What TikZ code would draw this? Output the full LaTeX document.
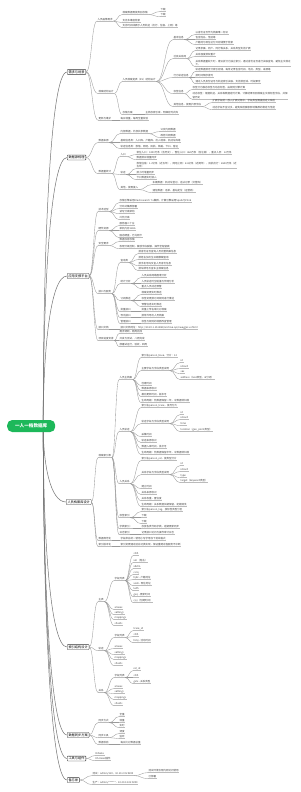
\documentclass[tikz,border=0pt]{standalone}
\usepackage{fontspec}
\newfontfamily\cjk{Noto Sans CJK SC}
\usetikzlibrary{calc}
\pgfdeclarelayer{bg}
\pgfsetlayers{bg,main}
\definecolor{txt}{HTML}{444444}
\definecolor{lnc}{HTML}{9A9A9A}
\definecolor{ulc}{HTML}{BBBBBB}
\definecolor{rootg}{HTML}{1DB85A}
\tikzset{
  uline/.style={draw=ulc, line width=0.3pt},
  conn/.style={draw=lnc, line width=0.35pt},
  rconn/.style={draw=black!55, line width=0.5pt},
  leaf/.style={anchor=south west, inner xsep=0.5pt, inner ysep=0.45pt, align=left,
    font=\cjk\fontsize{2.5}{3.3}\selectfont, text=txt,
    append after command={\pgfextra{\draw[uline] (\tikzlastnode.south west) -- (\tikzlastnode.south east);}}},
  topic/.style={anchor=west, draw=black!80, line width=0.45pt, fill=white, rounded corners=0.6pt,
    inner xsep=1.3pt, inner ysep=1pt, font=\cjk\fontsize{3.2}{3.6}\selectfont, text=black},
  rootbox/.style={anchor=west, fill=rootg, rounded corners=5pt, minimum height=12pt, minimum width=48pt,
    inner xsep=3pt, inner ysep=0pt, font=\cjk\bfseries\fontsize{4.6}{5.5}\selectfont, text=white}
}
\newcommand\mmlf[4]{\node[leaf] (#1) at (#2,{-(#3+1.6)}) {#4};}
\newcommand\mmlk[2]{\draw[conn] let \p1=(#1.south east), \p2=(#2.south west) in
  (\p1) .. controls ({(\x1+\x2)/2},\y1) and ({(\x1+\x2)/2},\y2) .. (\p2);}
\newcommand\mmtk[2]{\draw[conn] let \p1=(#1.east), \p2=(#2.south west) in
  (\p1) .. controls ({(\x1+\x2)/2},\y1) and ({(\x1+\x2)/2},\y2) .. (\p2);}
\newcommand\mmrk[2]{\draw[rconn] let \p1=([xshift=12pt]#1.center), \p2=(#2.west) in
  (\p1) .. controls (\x1,{(\y1+\y2)/2}) and ({\x1+7pt},\y2) .. (\p2);}
\begin{document}
\begin{tikzpicture}[x=1pt,y=1pt]
\useasboundingbox (0,0) rectangle (300,-792);
\begin{pgfonlayer}{bg}
\fill[white] (0,0) rectangle (300,-792);
\end{pgfonlayer}

% root and main topics
\node[rootbox] (R) at (7,-426) {一人一档数据库};
\node[topic] (B1) at (67,-72) {需求与场景};
\node[topic] (B2) at (67,-157.5) {数据源梳理};
\node[topic] (B3) at (67,-276) {应用支撑平台};
\node[topic] (B4) at (66,-502) {人员档案库设计};
\node[topic] (B5) at (67,-647) {索引结构设计};
\node[topic] (B6) at (67,-735) {数据同步方案};
\node[topic] (B7) at (67,-758.5) {工具与组件};
\node[topic] (B8) at (67,-780) {备忘录};

% ---------- branch 1
\mmlf{c1}{97}{19.5}{人员画像需求}
\mmlf{c1a}{122}{13}{档案数据需按类别存储}
\mmlf{c1a1}{160}{10}{下载}
\mmlf{c1a2}{160}{15}{下载}
\mmlf{c1b}{122}{21}{支持多维度检索}
\mmlf{c1c}{122}{26}{支持时间线展示人员轨迹（出行、住宿、上网）等}
\mmlf{c2}{98}{92}{档案结构设计}
\mmlf{c2a}{122}{80}{人员档案宽表（ES）结构设计}
\mmlf{cA}{173}{38}{基本信息}
\mmlf{cA1}{195}{33}{以身份证号作为档案唯一标识}
\mmlf{cA2}{195}{38}{包含姓名、性别等}
\mmlf{cA3}{195}{43}{户籍地与现住址分开存储便于检索}
\mmlf{cB}{173}{57}{社会关系网}
\mmlf{cB1}{195}{49}{记录亲属、同户、同行等关系，关系类型支持扩展}
\mmlf{cB2}{195}{55}{关系强度按权重计}
\mmlf{cB3}{195}{65}{关系数据量较大时，建议拆分为独立索引，通过身份证号进行关联查询，避免主文档过\\大。}
\mmlf{cC}{173}{76}{行为轨迹信息}
\mmlf{cC1}{195}{70}{轨迹数据按月分索引存储，每条记录包含时间、地点、类型、来源等}
\mmlf{cC2}{195}{76}{按时间倒序排列}
\mmlf{cC3}{195}{82}{通过人员身份证号与轨迹索引关联，支持按区域、时段聚合}
\mmlf{cD}{173}{92}{标签信息}
\mmlf{cD1}{192}{88}{标签分为静态标签与动态标签，由规则引擎计算}
\mmlf{cD2}{192}{97.5}{动态标签：根据轨迹、关系等数据定时计算，计算结果写回档案主文档标签字段，并保\\留历史}
\mmlf{cE}{173}{105}{其他信息，按需扩展字段}
\mmlf{cE1}{212}{101}{扩展字段统一放入扩展对象中，字段类型需提前定义映射}
\mmlf{cE2}{212}{108}{动态字段不宜过多，避免映射膨胀影响集群的稳定与性能}
\mmlf{c2b}{122}{113}{存储方案}
\mmlf{c2b1}{145}{113}{主档存索引库，明细存列式库}
\mmlf{c3}{98}{118.5}{更新与维护}
\mmlf{c3a}{120}{118.5}{每日增量，每周全量校验}

% ---------- branch 2
\mmlf{d1}{98}{141}{数据来源}
\mmlf{d1a}{120}{132}{内部数据，外部共享数据}
\mmlf{d1a1}{160}{130}{公安内网数据}
\mmlf{d1a2}{160}{136}{政务外网数据}
\mmlf{d1b}{120}{141}{基础信息类：人口库、户籍库、出入境库、机动车库等}
\mmlf{d1c}{120}{147}{轨迹信息类：旅馆、网吧、民航、铁路、卡口、客运}
\mmlf{d2}{98}{172}{数据量统计}
\mmlf{e1}{120}{155}{人口}
\mmlf{e1a}{136}{153}{常住人口：3200万条（含历史），暂住人口：860万条（含注销），重点人员：12万条}
\mmlf{e1b}{136}{158}{数据按日增量同步}
\mmlf{e2}{120}{173}{轨迹}
\mmlf{e2a}{136}{167}{旅馆住宿：1.2亿条（近五年），网吧上网：8.6亿条（近两年），民航出行：6500万条（近\\五年）}
\mmlf{e2b}{136}{173}{按小时增量同步}
\mmlf{e2c}{136}{178}{卡口数据实时接入}
\mmlf{e3}{120}{188}{其他，按需接入}
\mmlf{e3a}{152}{183}{车辆数据：机动车登记、违法记录（交管库）}
\mmlf{e3b}{152}{191}{通信数据：话单、基站定位（运营商）}

% ---------- branch 3
\mmlf{f1}{98}{210}{技术选型}
\mmlf{f1a}{119}{201}{存储引擎采用Elasticsearch 7.x集群，计算引擎采用Spark与Flink}
\mmlf{f1b}{119}{207}{分布式集群部署}
\mmlf{f1c}{119}{212}{读写分离架构}
\mmlf{f1d}{119}{218}{冷热分离}
\mmlf{f2}{98}{229}{硬件资源}
\mmlf{f2a}{119}{224}{服务器二十台}
\mmlf{f2b}{119}{229}{单机内存128G}
\mmlf{f2c}{119}{236}{固态硬盘，万兆网卡}
\mmlf{f3}{98}{244}{安全要求}
\mmlf{f3a}{119}{240}{数据加密存储}
\mmlf{f3b}{119}{247}{权限分级控制，敏感字段脱敏，操作全程留痕}
\mmlf{f4}{98}{292}{接口与服务}
\mmlf{g1}{120}{261}{查询类}
\mmlf{g1a}{138}{252}{按身份证号查询人员完整档案信息}
\mmlf{g1b}{138}{258}{按姓名加出生日期模糊查询}
\mmlf{g1c}{138}{264}{按手机号码反查人员身份信息}
\mmlf{g1d}{138}{269}{按车牌号反查车主档案信息}
\mmlf{g2}{120}{282}{统计分析}
\mmlf{g2a}{141}{276}{人员关系网络图谱分析}
\mmlf{g2b}{141}{282}{人员轨迹时空碰撞与伴随分析}
\mmlf{g2c}{141}{287}{重点人员动态预警}
\mmlf{g3}{120}{299}{订阅推送}
\mmlf{g3a}{141}{293}{档案变更实时推送}
\mmlf{g3b}{141}{299}{标签变更按订阅规则进行推送}
\mmlf{g3c}{141}{305}{预警信息实时推送}
\mmlf{g4}{120}{310}{批量接口}
\mmlf{g4a}{141}{310}{批量上传名单比对档案}
\mmlf{g5}{120}{316}{导出接口}
\mmlf{g5a}{141}{316}{按条件导出人员档案}
\mmlf{g6}{120}{322}{管理接口}
\mmlf{g6a}{141}{322}{标签与规则的增删改查管理}
\mmlf{f5}{98}{328}{接口文档}
\mmlf{f5a}{120}{328}{接口文档地址：http://10.20.1.15:8080/archive-api/swagger-ui.html}
\mmlf{f6}{98}{339}{项目进度安排}
\mmlf{f6a}{119}{332}{需求调研，两周完成}
\mmlf{f6b}{119}{339}{开发与测试，八周完成}
\mmlf{f6c}{119}{345}{部署试运行，验收，四周}

% ---------- branch 4
\mmlf{h1}{98}{456}{档案索引表}
\mmlf{i1}{119}{378}{人员主档案}
\mmlf{i1a}{141}{356}{索引名person\_base，分片：12}
\mmlf{i1b}{141}{369}{主要字段与字段类型说明}
\mmlf{i1b1}{180}{361}{id}
\mmlf{i1b2}{180}{367}{idcard}
\mmlf{i1b3}{180}{372}{sex}
\mmlf{i1b4}{180}{378}{address（text类型，ik分词）}
\mmlf{i1c}{141}{384}{创建时间}
\mmlf{i1d}{141}{389}{数据来源标识}
\mmlf{i1e}{141}{395}{最后更新时间，版本号}
\mmlf{i1f}{141}{401}{生命周期：热数据保留一年，冷数据转归档}
\mmlf{i2}{119}{430}{人员轨迹}
\mmlf{i2a}{141}{406}{索引名person\_trace，按月分片}
\mmlf{i2b}{141}{422}{轨迹字段与字段类型说明}
\mmlf{i2b1}{180}{413}{id}
\mmlf{i2b2}{180}{418}{idcard}
\mmlf{i2b3}{180}{424}{time}
\mmlf{i2b4}{180}{430}{location（geo\_point类型）}
\mmlf{i2c}{141}{435}{采集时间}
\mmlf{i2d}{141}{441}{轨迹来源标识}
\mmlf{i2e}{141}{447}{数据入库时间，批次号}
\mmlf{i2f}{141}{453}{生命周期：热数据保留半年，冷数据转归档}
\mmlf{i3}{119}{482}{人员关系}
\mmlf{i3a}{141}{459}{索引名person\_rel，按类型分片}
\mmlf{i3b}{141}{473}{关系字段与字段类型说明}
\mmlf{i3b1}{180}{464}{id}
\mmlf{i3b2}{180}{470}{idcard}
\mmlf{i3b3}{180}{476}{type}
\mmlf{i3b4}{180}{481}{target（keyword类型）}
\mmlf{i3c}{141}{487}{建立时间}
\mmlf{i3d}{141}{493}{关系来源标识}
\mmlf{i3e}{141}{499}{关系权重，置信度}
\mmlf{i3f}{141}{505}{生命周期：关系数据长期保留，定期清洗}
\mmlf{i4}{119}{516}{标签索引}
\mmlf{i4a}{141}{510}{索引名person\_tag，按标签类型分区}
\mmlf{i4b}{141}{516}{下载}
\mmlf{i4c}{141}{522}{下载}
\mmlf{i5}{119}{527}{字典索引：}
\mmlf{i5a}{141}{527}{存放各类代码字典，定期更新同步}
\mmlf{i6}{119}{533}{日志索引}
\mmlf{i6a}{141}{533}{记录接口访问与操作审计日志}
\mmlf{h2}{98}{539}{数据规范化}
\mmlf{h2a}{120}{539}{字段命名统一使用小写字母加下划线格式}
\mmlf{h3}{98}{545}{索引版本化}
\mmlf{h3a}{120}{545}{索引变更通过别名切换实现，保证重建过程服务不中断}

% ---------- branch 5
\mmlf{j1}{98}{600}{主表}
\mmlf{k1}{114}{579}{字段列表}
\mmlf{k1a}{133}{554}{sfzh}
\mmlf{k1b}{133}{561}{xm（姓名）}
\mmlf{k1c}{133}{567}{xbdm}
\mmlf{k1d}{133}{573}{csrq}
\mmlf{k1e}{133}{578}{hjdz - 户籍地址}
\mmlf{k1f}{133}{584}{xzdz - 现住地址}
\mmlf{k1g}{133}{589}{lxdh}
\mmlf{k1h}{133}{595}{gxsj - 更新时间}
\mmlf{k1i}{133}{601}{cjsj（创建时间）}
\mmlf{k2}{114}{608}{aliases}
\mmlf{k3}{114}{613}{settings}
\mmlf{k4}{114}{618}{mappings}
\mmlf{k5}{114}{624}{shards}
\mmlf{j2}{98}{649}{轨迹}
\mmlf{k6}{114}{636}{字段列表}
\mmlf{k6a}{133}{629}{trace\_id}
\mmlf{k6b}{133}{635}{sfzh}
\mmlf{k6c}{133}{641}{hdsj - 活动时间}
\mmlf{k7}{114}{647}{aliases}
\mmlf{k8}{114}{653}{settings}
\mmlf{k9}{114}{658}{mappings}
\mmlf{k10}{114}{664}{shards}
\mmlf{j3}{98}{691}{关系}
\mmlf{k11}{114}{676}{字段列表}
\mmlf{k11a}{133}{669}{rel\_id}
\mmlf{k11b}{133}{676}{sfzh}
\mmlf{k11c}{133}{682}{gxlx - 关系类型}
\mmlf{k12}{114}{687}{aliases}
\mmlf{k13}{114}{692}{settings}
\mmlf{k14}{114}{698}{mappings}
\mmlf{k15}{114}{704}{shards}

% ---------- branch 6
\mmlf{l1}{98}{721}{同步方式}
\mmlf{l1a}{119}{715}{全量}
\mmlf{l1b}{119}{721}{增量}
\mmlf{l1c}{119}{726}{实时}
\mmlf{l2}{98}{736}{同步工具}
\mmlf{l2a}{119}{732}{调度}
\mmlf{l2b}{119}{737}{监听}
\mmlf{l3}{98}{743}{数据校验}
\mmlf{l3a}{120}{743}{每日比对数据总量}

% ---------- branch 7
\mmlf{m1}{95}{754}{Kibana}
\mmlf{m2}{95}{759}{ES-Head插件}

% ---------- branch 8
\mmlf{n1}{92}{774}{测试：admin/123，10.10.2.15:9200}
\mmlf{n1a}{148}{771}{测试环境仅限内网访问使用}
\mmlf{n1b}{148}{777}{已部署}
\mmlf{n2}{92}{783}{生产：admin/******，10.20.3.101:9200}

% ---------- connectors
\begin{pgfonlayer}{bg}
\foreach \mb in {B1,B2,B3,B4,B5,B6,B7,B8} {\mmrk{R}{\mb}}
\end{pgfonlayer}
\foreach \ma/\mb in {B1/c1,B1/c2,B1/c3,B2/d1,B2/d2,B3/f1,B3/f2,B3/f3,B3/f4,B3/f5,B3/f6,
  B4/h1,B4/h2,B4/h3,B5/j1,B5/j2,B5/j3,B6/l1,B6/l2,B6/l3,B7/m1,B7/m2,B8/n1,B8/n2} {\mmtk{\ma}{\mb}}
\foreach \ma/\mb in {c1/c1a,c1/c1b,c1/c1c,c1a/c1a1,c1a/c1a2,c2/c2a,c2/c2b,
  c2a/cA,c2a/cB,c2a/cC,c2a/cD,c2a/cE,cA/cA1,cA/cA2,cA/cA3,cB/cB1,cB/cB2,cB/cB3,
  cC/cC1,cC/cC2,cC/cC3,cD/cD1,cD/cD2,cE/cE1,cE/cE2,c2b/c2b1,c3/c3a,
  d1/d1a,d1/d1b,d1/d1c,d1a/d1a1,d1a/d1a2,d2/e1,d2/e2,d2/e3,e1/e1a,e1/e1b,
  e2/e2a,e2/e2b,e2/e2c,e3/e3a,e3/e3b,
  f1/f1a,f1/f1b,f1/f1c,f1/f1d,f2/f2a,f2/f2b,f2/f2c,f3/f3a,f3/f3b,
  f4/g1,f4/g2,f4/g3,f4/g4,f4/g5,f4/g6,g1/g1a,g1/g1b,g1/g1c,g1/g1d,
  g2/g2a,g2/g2b,g2/g2c,g3/g3a,g3/g3b,g3/g3c,g4/g4a,g5/g5a,g6/g6a,f5/f5a,
  f6/f6a,f6/f6b,f6/f6c,
  h1/i1,h1/i2,h1/i3,h1/i4,h1/i5,h1/i6,
  i1/i1a,i1/i1b,i1/i1c,i1/i1d,i1/i1e,i1/i1f,i1b/i1b1,i1b/i1b2,i1b/i1b3,i1b/i1b4,
  i2/i2a,i2/i2b,i2/i2c,i2/i2d,i2/i2e,i2/i2f,i2b/i2b1,i2b/i2b2,i2b/i2b3,i2b/i2b4,
  i3/i3a,i3/i3b,i3/i3c,i3/i3d,i3/i3e,i3/i3f,i3b/i3b1,i3b/i3b2,i3b/i3b3,i3b/i3b4,
  i4/i4a,i4/i4b,i4/i4c,i5/i5a,i6/i6a,h2/h2a,h3/h3a,
  j1/k1,j1/k2,j1/k3,j1/k4,j1/k5,k1/k1a,k1/k1b,k1/k1c,k1/k1d,k1/k1e,k1/k1f,k1/k1g,k1/k1h,k1/k1i,
  j2/k6,j2/k7,j2/k8,j2/k9,j2/k10,k6/k6a,k6/k6b,k6/k6c,
  j3/k11,j3/k12,j3/k13,j3/k14,j3/k15,k11/k11a,k11/k11b,k11/k11c,
  l1/l1a,l1/l1b,l1/l1c,l2/l2a,l2/l2b,l3/l3a,n1/n1a,n1/n1b} {\mmlk{\ma}{\mb}}
\end{tikzpicture}
\end{document}
